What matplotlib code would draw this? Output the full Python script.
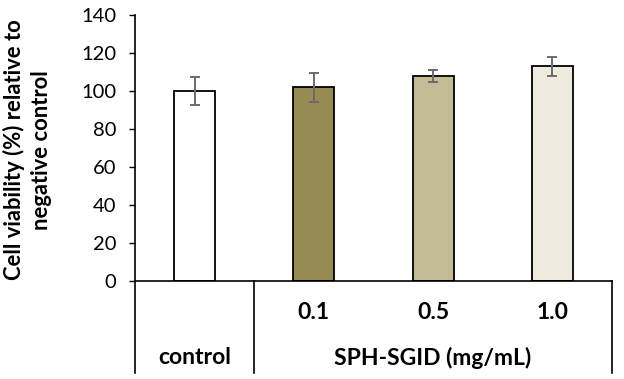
import matplotlib
matplotlib.use("Agg")
import matplotlib.pyplot as plt

categories = ["control", "0.1", "0.5", "1.0"]
values = [100, 102, 108, 113]
errors = [7.5, 7.7, 3.0, 5.0]
colors = ["#FFFFFF", "#978B54", "#C4BC96", "#EEEBDE"]
yticks = [0, 20, 40, 60, 80, 100, 120, 140]
group_label = "SPH-SGID (mg/mL)"
ylabel = "Cell viability (%) relative to\nnegative control"

plt.rcParams['font.family'] = ['Lato', 'DejaVu Sans']

fig = plt.figure(figsize=(6.24, 3.79), dpi=100)
ax = fig.add_axes([135/624, 1-281/379, 477/624, 266/379])

x = list(range(len(categories)))
ax.bar(x, values, width=0.345, color=colors, edgecolor="black", linewidth=1.3, zorder=2)
ax.errorbar(x, values, yerr=errors, fmt="none", ecolor="#6B6B6B", elinewidth=1.4,
            capsize=3.8, capthick=1.4, zorder=3)

ax.set_xlim(-0.5, 3.5)
ax.set_ylim(0, 140)
ax.set_yticks(yticks)
ax.tick_params(axis="y", direction="out", length=4.5, width=1, labelsize=14.5, pad=9)
ax.set_xticks([])
for s in ["top", "right"]:
    ax.spines[s].set_visible(False)
ax.spines["left"].set_linewidth(1.2)
ax.spines["bottom"].set_linewidth(1.2)

# category table below axis
low = -48.5
for xv in [-0.5, 0.5, 3.5]:
    ax.plot([xv, xv], [0, low], color="black", lw=1.2, clip_on=False)
for i, c in enumerate(categories[1:], start=1):
    ax.text(i, -16.8, c, ha="center", va="center", fontsize=16.5, fontweight="bold")
ax.text(0, -40.5, categories[0], ha="center", va="center", fontsize=16.5, fontweight="bold")
ax.text(2, -40.5, group_label, ha="center", va="center", fontsize=16.5, fontweight="bold")

fig.text(27/624, 1-150/379, ylabel, rotation=90, ha="center", va="center",
         fontsize=15.8, fontweight="bold", linespacing=1.35)

fig.savefig("out.png", dpi=100)
